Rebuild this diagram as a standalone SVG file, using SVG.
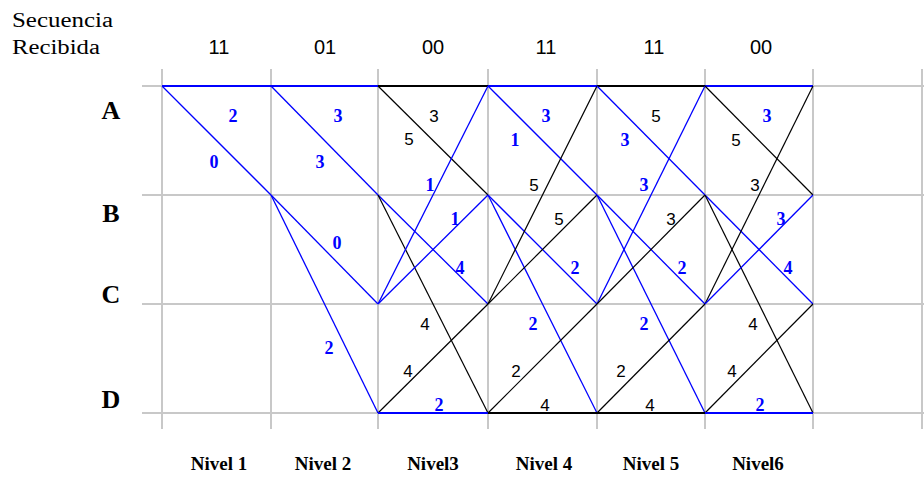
<svg xmlns="http://www.w3.org/2000/svg" width="924" height="477" viewBox="0 0 924 477">
<style>
.grid line{stroke:#c8c8c8;stroke-width:2}
.b{stroke:#0000ff;stroke-width:1.3;fill:none}
.k{stroke:#000;stroke-width:1.2;fill:none}
.bh{stroke:#0000ff;stroke-width:2.2}
.kh{stroke:#000;stroke-width:2.2}
.hdr{font-family:"Liberation Serif",serif;font-size:20px;fill:#000}
.seq{font-family:"Liberation Sans",sans-serif;font-size:20px;fill:#000;text-anchor:middle}
.st{font-family:"Liberation Serif",serif;font-size:26px;font-weight:bold;fill:#000;text-anchor:middle}
.lb{font-family:"Liberation Serif",serif;font-size:18px;font-weight:bold;fill:#0000ff;text-anchor:middle}
.lk{font-family:"Liberation Sans",sans-serif;font-size:17px;fill:#000;text-anchor:middle}
.niv{font-family:"Liberation Serif",serif;font-size:19px;font-weight:bold;fill:#000;text-anchor:middle}
</style>
<rect width="924" height="477" fill="#fff"/>
<g class="grid" id="grid">
<line x1="162" y1="69" x2="162" y2="429"/>
<line x1="271" y1="69" x2="271" y2="429"/>
<line x1="378" y1="69" x2="378" y2="429"/>
<line x1="488" y1="69" x2="488" y2="429"/>
<line x1="597" y1="69" x2="597" y2="429"/>
<line x1="705" y1="69" x2="705" y2="429"/>
<line x1="813" y1="69" x2="813" y2="429"/>
<line x1="922" y1="69" x2="922" y2="429"/>
<line x1="142" y1="86" x2="924" y2="86"/>
<line x1="142" y1="195" x2="924" y2="195"/>
<line x1="142" y1="304" x2="924" y2="304"/>
<line x1="142" y1="413" x2="924" y2="413"/>
</g>
<g id="header">
<text class="hdr" x="12" y="27" textLength="101" lengthAdjust="spacingAndGlyphs">Secuencia</text>
<text class="hdr" x="12" y="54" textLength="88" lengthAdjust="spacingAndGlyphs">Recibida</text>
<text class="seq" x="219" y="54">11</text>
<text class="seq" x="325" y="54">01</text>
<text class="seq" x="433" y="54">00</text>
<text class="seq" x="546" y="54">11</text>
<text class="seq" x="654" y="54">11</text>
<text class="seq" x="761" y="54">00</text>
</g>
<g id="state-A"><text class="st" x="111" y="119">A</text></g>
<g id="state-B"><text class="st" x="111" y="222">B</text></g>
<g id="state-C"><text class="st" x="111" y="303">C</text></g>
<g id="state-D"><text class="st" x="111" y="408">D</text></g>
<g id="connectors">
<!-- Level 1 -->
<line class="bh" x1="162" y1="86" x2="271" y2="86"/>
<line class="b" x1="162" y1="86" x2="271" y2="195"/>
<!-- Level 2 -->
<line class="bh" x1="271" y1="86" x2="378" y2="86"/>
<line class="b" x1="271" y1="86" x2="378" y2="195"/>
<line class="b" x1="271" y1="195" x2="378" y2="304"/>
<line class="b" x1="271" y1="195" x2="378" y2="413"/>
<!-- Level 3 -->
<line class="kh" x1="378" y1="86" x2="488" y2="86"/>
<line class="k" x1="378" y1="86" x2="488" y2="195"/>
<line class="b" x1="378" y1="195" x2="488" y2="304"/>
<line class="k" x1="378" y1="195" x2="488" y2="413"/>
<line class="b" x1="378" y1="304" x2="488" y2="86"/>
<line class="b" x1="378" y1="304" x2="488" y2="195"/>
<line class="k" x1="378" y1="413" x2="488" y2="304"/>
<line class="bh" x1="378" y1="413" x2="488" y2="413"/>
<!-- Level 4 -->
<line class="bh" x1="488" y1="86" x2="597" y2="86"/>
<line class="b" x1="488" y1="86" x2="597" y2="195"/>
<line class="b" x1="488" y1="195" x2="597" y2="304"/>
<line class="b" x1="488" y1="195" x2="597" y2="413"/>
<line class="k" x1="488" y1="304" x2="597" y2="86"/>
<line class="k" x1="488" y1="304" x2="597" y2="195"/>
<line class="k" x1="488" y1="413" x2="597" y2="304"/>
<line class="kh" x1="488" y1="413" x2="597" y2="413"/>
<!-- Level 5 -->
<line class="kh" x1="597" y1="86" x2="705" y2="86"/>
<line class="b" x1="597" y1="86" x2="705" y2="195"/>
<line class="b" x1="597" y1="195" x2="705" y2="304"/>
<line class="b" x1="597" y1="195" x2="705" y2="413"/>
<line class="b" x1="597" y1="304" x2="705" y2="86"/>
<line class="k" x1="597" y1="304" x2="705" y2="195"/>
<line class="k" x1="597" y1="413" x2="705" y2="304"/>
<line class="kh" x1="597" y1="413" x2="705" y2="413"/>
<!-- Level 6 -->
<line class="bh" x1="705" y1="86" x2="813" y2="86"/>
<line class="k" x1="705" y1="86" x2="813" y2="195"/>
<line class="b" x1="705" y1="195" x2="813" y2="304"/>
<line class="k" x1="705" y1="195" x2="813" y2="413"/>
<line class="k" x1="705" y1="304" x2="813" y2="86"/>
<line class="b" x1="705" y1="304" x2="813" y2="195"/>
<line class="k" x1="705" y1="413" x2="813" y2="304"/>
<line class="bh" x1="705" y1="413" x2="813" y2="413"/>
</g>
<g id="metrics">
<text class="lb" x="233" y="122">2</text>
<text class="lb" x="214" y="168">0</text>
<text class="lb" x="338" y="122">3</text>
<text class="lb" x="320" y="168">3</text>
<text class="lb" x="337" y="249">0</text>
<text class="lb" x="329" y="354">2</text>
<text class="lk" x="434" y="122">3</text>
<text class="lk" x="409" y="145">5</text>
<text class="lb" x="430" y="191">1</text>
<text class="lb" x="455" y="225">1</text>
<text class="lb" x="460" y="274">4</text>
<text class="lk" x="425" y="330">4</text>
<text class="lk" x="408" y="377">4</text>
<text class="lb" x="439" y="411">2</text>
<text class="lb" x="546" y="122">3</text>
<text class="lb" x="515" y="146">1</text>
<text class="lk" x="534" y="191">5</text>
<text class="lk" x="559" y="225">5</text>
<text class="lb" x="575" y="274">2</text>
<text class="lb" x="533" y="330">2</text>
<text class="lk" x="516" y="377">2</text>
<text class="lk" x="545" y="411">4</text>
<text class="lk" x="656" y="122">5</text>
<text class="lb" x="625" y="146">3</text>
<text class="lb" x="644" y="191">3</text>
<text class="lk" x="671" y="225">3</text>
<text class="lb" x="682" y="274">2</text>
<text class="lb" x="644" y="330">2</text>
<text class="lk" x="621" y="377">2</text>
<text class="lk" x="650" y="411">4</text>
<text class="lb" x="767" y="122">3</text>
<text class="lk" x="736" y="146">5</text>
<text class="lk" x="755" y="191">3</text>
<text class="lb" x="781" y="225">3</text>
<text class="lb" x="788" y="274">4</text>
<text class="lk" x="753" y="330">4</text>
<text class="lk" x="732" y="377">4</text>
<text class="lb" x="760" y="411">2</text>
</g>
<g id="levels">
<text class="niv" x="219" y="470">Nivel 1</text>
<text class="niv" x="323" y="470">Nivel 2</text>
<text class="niv" x="433" y="470">Nivel3</text>
<text class="niv" x="544" y="470">Nivel 4</text>
<text class="niv" x="651" y="470">Nivel 5</text>
<text class="niv" x="758" y="470">Nivel6</text>
</g>
</svg>
